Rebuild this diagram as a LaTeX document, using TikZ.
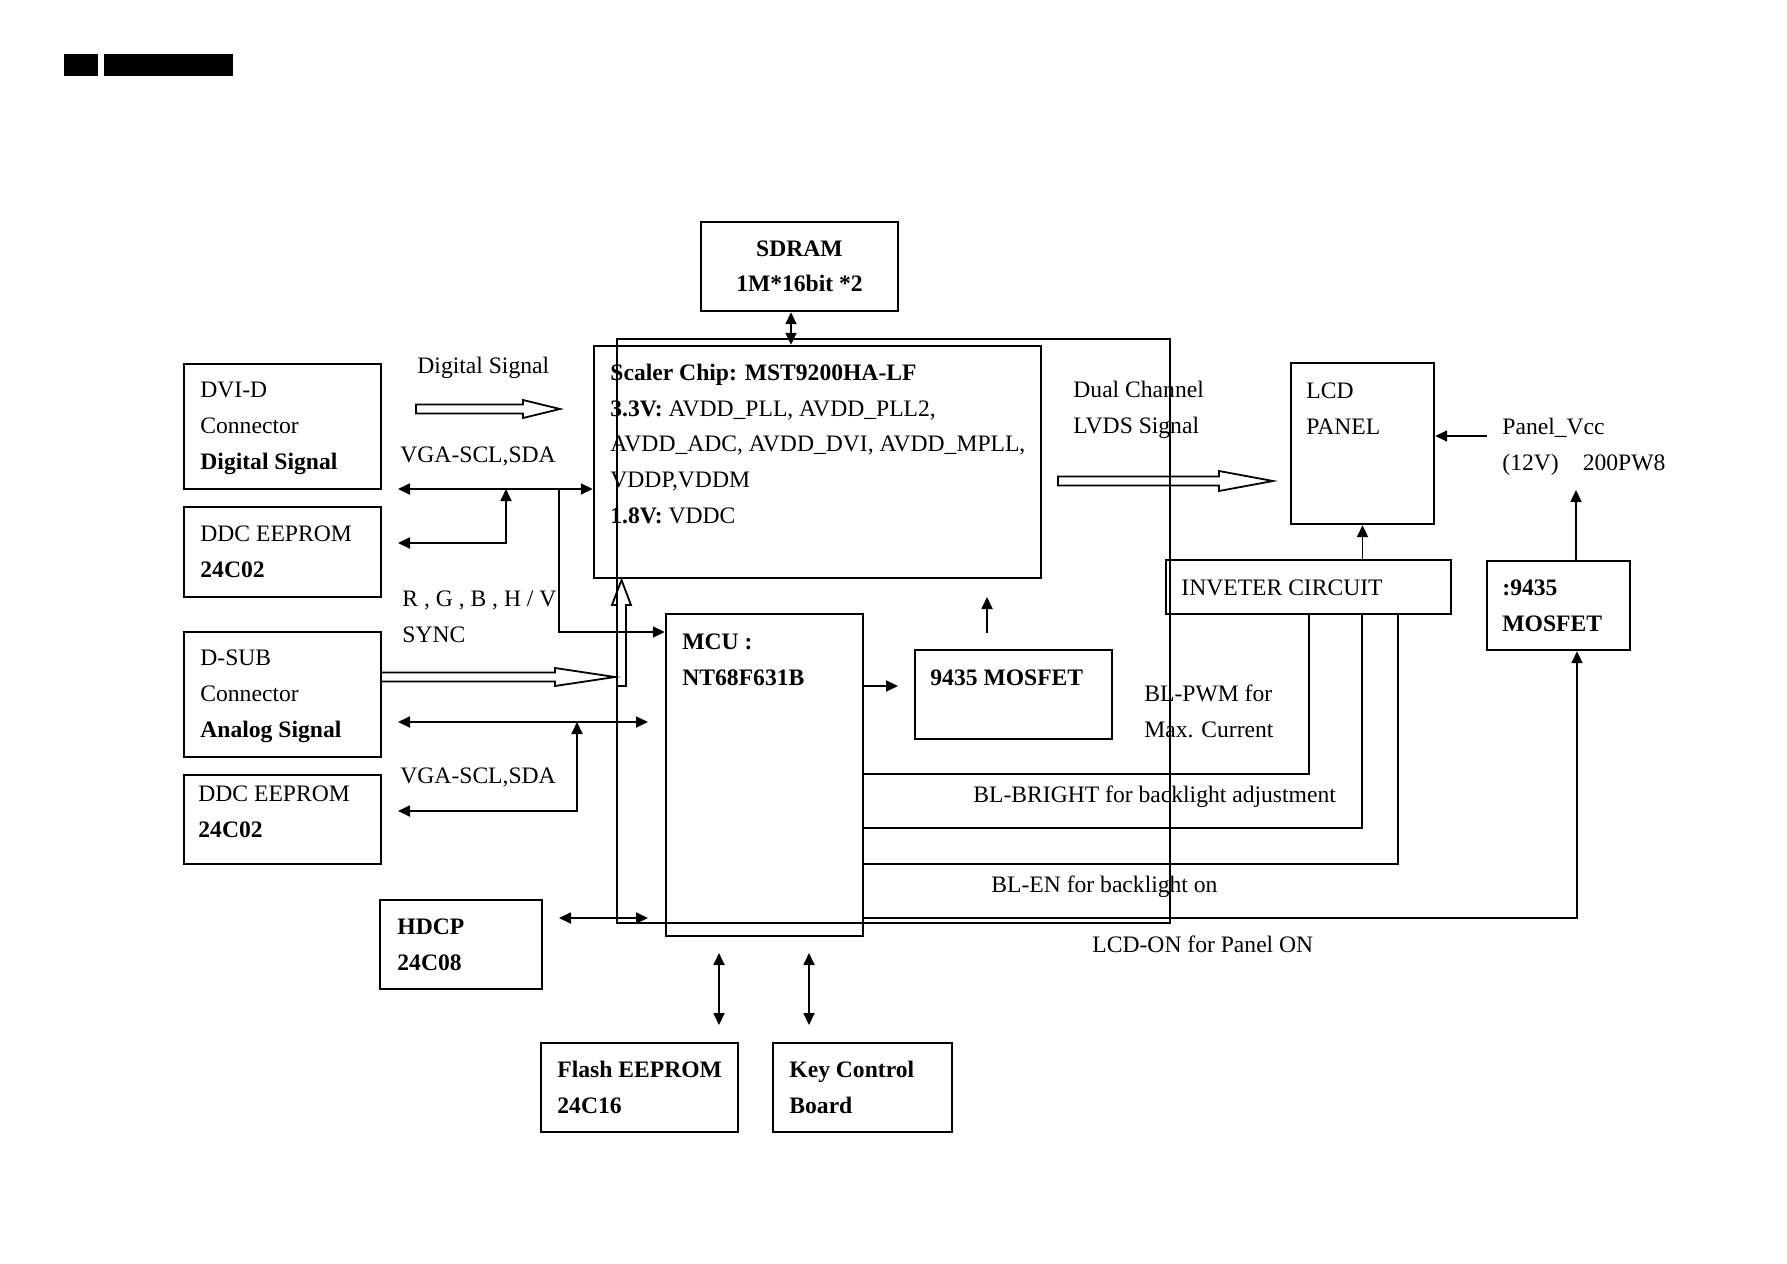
\documentclass[tikz,border=0pt]{standalone}
\usepackage{fontspec}
\setmainfont{Liberation Serif}
\usetikzlibrary{arrows.meta}

\begin{document}
\begin{tikzpicture}[x=0.5pt,y=-0.5pt,
  every node/.style={font=\fontsize{11.8}{17.8}\selectfont, inner sep=0pt},
  box/.style 2 args={draw, line width=1.2pt, minimum width=#1*0.5pt, minimum height=#2*0.5pt},
  txt/.style={anchor=base west, align=left},
  wire/.style={line width=0.9pt},
  tip/.style={wire, -{Triangle[length=6pt,width=5.5pt]}},
  dbl/.style={wire, {Triangle[length=6pt,width=5.5pt]}-{Triangle[length=6pt,width=5.5pt]}},
  hollow/.style={line width=0.9pt, line join=miter}]
\useasboundingbox (0,0) rectangle (1787,1263);
\fill (64,54) rectangle (98,76);
\fill (104,54) rectangle (233,76);
\draw[wire] (617,339) rectangle (1170,923);
\node[box={197}{89}, align=center] (sdram) at (799.5,266.5) {\textbf{SDRAM}\\\textbf{1M*16bit *2}};
\node[box={447}{232}] (scaler) at (817.5,462) {};
\node[txt] (scalertxt) at (610,523) {\textbf{Scaler Chip: MST9200HA-LF}\\\textbf{3.3V:} AVDD\_PLL, AVDD\_PLL2,\\AVDD\_ADC, AVDD\_DVI, AVDD\_MPLL,\\VDDP,VDDM\\\textbf{1.8V:} VDDC};
\node[box={197}{125}] (dvi) at (282.5,426.5) {};
\node[txt] (dvitxt) at (200,469) {DVI-D\\Connector\\\textbf{Digital Signal}};
\node[box={197}{90}] (ddca) at (282.5,552) {};
\node[txt] (ddcatxt) at (200,577) {DDC EEPROM\\\textbf{24C02}};
\node[box={197}{125}] (dsub) at (282.5,694.5) {};
\node[txt] (dsubtxt) at (200,737) {D-SUB\\Connector\\\textbf{Analog Signal}};
\node[box={197}{89}] (ddcb) at (282.5,819.5) {};
\node[txt] (ddcbtxt) at (198,837) {DDC EEPROM\\\textbf{24C02}};
\node[box={162}{89}] (hdcp) at (461,944.5) {};
\node[txt] (hdcptxt) at (397,970) {\textbf{HDCP}\\\textbf{24C08}};
\node[box={197}{322}] (mcu) at (764.5,775) {};
\node[txt] (mcutxt) at (682,685) {\textbf{MCU :}\\\textbf{NT68F631B}};
\node[box={197}{89}] (mosa) at (1013.5,694.5) {};
\node[txt] (mosatxt) at (930,685) {\textbf{9435 MOSFET}};
\node[box={285}{54}] (inv) at (1308.5,587) {};
\node[txt] (invtxt) at (1181,595) {INVETER CIRCUIT};
\node[box={143}{161}] (lcd) at (1362.5,443.5) {};
\node[txt] (lcdtxt) at (1306,434) {LCD\\PANEL};
\node[box={143}{89}] (mosb) at (1558.5,605.5) {};
\node[txt] (mosbtxt) at (1502,631) {\textbf{:9435}\\\textbf{MOSFET}};
\node[box={197}{89}] (flash) at (639.5,1087.5) {};
\node[txt] (flashtxt) at (557,1113) {\textbf{Flash EEPROM}\\\textbf{24C16}};
\node[box={179}{89}] (key) at (862.5,1087.5) {};
\node[txt] (keytxt) at (789,1113) {\textbf{Key Control}\\\textbf{Board}};
\node[txt] (digtxt) at (417,373) {Digital Signal};
\node[txt] (vgaatxt) at (400,462) {VGA-SCL,SDA};
\node[txt] (rgbtxt) at (402,642) {R , G , B , H / V\\SYNC};
\node[txt] (vgabtxt) at (400,783) {VGA-SCL,SDA};
\node[txt] (lvdstxt) at (1073,433) {Dual Channel\\LVDS Signal};
\node[txt] (vcctxt) at (1502,470) {Panel\_Vcc\\(12V)\hspace{12pt}200PW8};
\node[txt] (pwmtxt) at (1144,737) {BL-PWM for\\Max. Current};
\node[txt] (brtxt) at (973,802) {BL-BRIGHT for backlight adjustment};
\node[txt] (entxt) at (991,892) {BL-EN for backlight on};
\node[txt] (ontxt) at (1092,952) {LCD-ON for Panel ON};
\coordinate (vgaa) at (398,489);
\coordinate (ddcal) at (398,543);
\coordinate (ja) at (506,489);
\coordinate (jb) at (559,489);
\coordinate (vgab) at (398,722);
\coordinate (vgabr) at (648,722);
\coordinate (ddcbl) at (398,811);
\coordinate (jc) at (577,722);
\coordinate (hdcpl) at (559,918);
\coordinate (hdcpr) at (648,918);
\coordinate (mosl) at (898,686);
\coordinate (mosu) at (987,633);
\coordinate (mosut) at (987,597);
\coordinate (vcc) at (1487,436);
\coordinate (mosbt) at (1576,490);
\coordinate (fa) at (719,953);
\coordinate (fb) at (719,1025);
\coordinate (ka) at (809,953);
\coordinate (kb) at (809,1025);
\draw[dbl] (sdram.south -| 791,0) -- (scaler.north -| 791,0);
\draw[dbl] (vgaa) -- (vgaa -| scaler.west);
\draw[dbl] (ddcal) -| (ja);
\draw[tip] (jb) |- (mcu.west |- 0,632);
\draw[dbl] (vgab) -- (vgabr);
\draw[dbl] (ddcbl) -| (jc);
\draw[dbl] (hdcpl) -- (hdcpr);
\draw[tip] (mcu.east |- mosl) -- (mosl);
\draw[tip] (mosu) -- (mosut);
\draw[tip] (lcd.south |- inv.north) -- (lcd.south);
\draw[tip] (vcc) -- (vcc -| lcd.east);
\draw[tip] (mosbt |- mosb.north) -- (mosbt);
\draw[wire] (mcu.east |- 0,774) -| (inv.south -| 1309,0);
\draw[wire] (mcu.east |- 0,828) -| (inv.south -| 1362,0);
\draw[wire] (mcu.east |- 0,864) -| (inv.south -| 1398,0);
\draw[tip] (mcu.east |- 0,918) -| (mosb.south -| 1577,0);
\draw[dbl] (fa) -- (fb);
\draw[dbl] (ka) -- (kb);
\draw[hollow] (416,404.5) -- (523,404.5) -- (523,400) -- (560,409) -- (523,418) -- (523,413.5) -- (416,413.5) -- cycle;
\draw[hollow] (381,672.5) -- (555,672.5) -- (555,668) -- (615,677) -- (555,686) -- (555,681.5) -- (381,681.5) -- cycle;
\draw[hollow] (1058,476.5) -- (1219,476.5) -- (1219,471) -- (1273,481) -- (1219,491) -- (1219,485.5) -- (1058,485.5) -- cycle;
\draw[hollow] (617,686) -- (617,605) -- (612,605) -- (621.5,580) -- (631,605) -- (626,605) -- (626,686) -- cycle;
\end{tikzpicture}
\end{document}
